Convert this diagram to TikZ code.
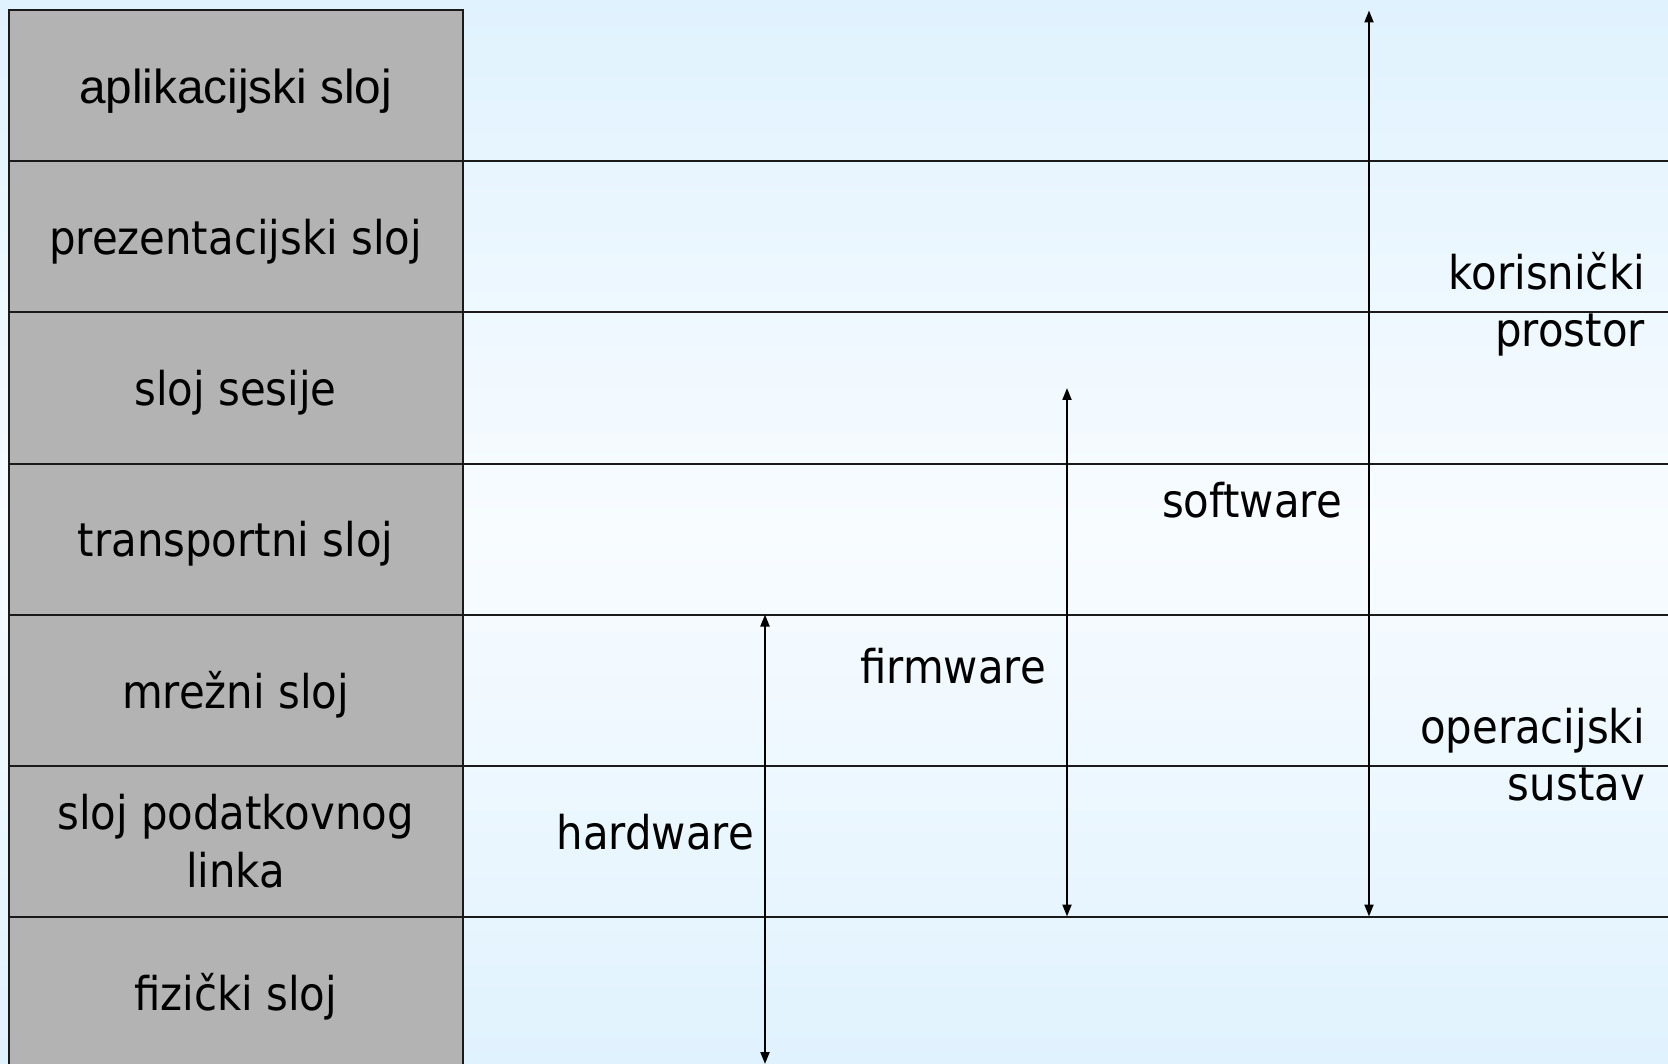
\documentclass[tikz,border=0pt]{standalone}
\usepackage{fontspec}
\setmainfont{Liberation Sans}
\newfontfamily\tah[FakeStretch=0.9]{DejaVu Sans}
\usetikzlibrary{arrows.meta}
\definecolor{bgtop}{RGB}{224,242,254}
\definecolor{bgmid}{RGB}{248,252,255}
\definecolor{layergray}{RGB}{179,179,179}
\definecolor{linecol}{RGB}{26,26,26}
\tikzset{
  layerbox/.style={draw=linecol, line width=2pt, fill=layergray, minimum width=454pt, minimum height=151pt, inner sep=0pt, outer sep=0pt, align=center, font=\tah\fontsize{46.5}{58}\selectfont},
  oneline/.style={text depth=0pt},
  rowline/.style={draw=linecol, line width=2pt},
  lbl/.style={inner sep=0pt, font=\tah\fontsize{46.5}{57}\selectfont},
  span/.style={draw=black, line width=2pt, {Triangle[length=12pt,width=9pt]}-{Triangle[length=12pt,width=9pt]}}
}
\begin{document}
\begin{tikzpicture}[x=1pt,y=-1pt]
\useasboundingbox (0,0) rectangle (1668,1064);
\shade[top color=bgtop, bottom color=bgtop, middle color=bgmid] (0,0) rectangle (1668,1064);
% layer boxes
\node[layerbox, oneline, font=\fontsize{47.7}{58}\selectfont] (l1) at (235.5,86) {aplikacijski sloj};
\node[layerbox, oneline] (l2) at (235.5,237) {prezentacijski sloj};
\node[layerbox, oneline] (l3) at (235.5,388) {sloj sesije};
\node[layerbox, oneline] (l4) at (235.5,539) {transportni sloj};
\node[layerbox, oneline] (l5) at (235.5,690) {mrežni sloj};
\node[layerbox] (l6) at (235.5,841) {sloj podatkovnog\\linka};
\node[layerbox, oneline] (l7) at (235.5,992) {fizički sloj};
% row lines
\draw[rowline] (l1.south east) -- (1668,161.5);
\draw[rowline] (l2.south east) -- (1668,312.5);
\draw[rowline] (l3.south east) -- (1668,463.5);
\draw[rowline] (l4.south east) -- (1668,614.5);
\draw[rowline] (l5.south east) -- (1668,765.5);
\draw[rowline] (l6.south east) -- (1668,916.5);
% arrow end points
\coordinate (a1t) at (1369,10.5);
\coordinate (a1b) at (1369,916.5);
\coordinate (a2t) at (1067,388);
\coordinate (a2b) at (1067,916.5);
\coordinate (a3t) at (765,614.5);
\coordinate (a3b) at (765,1064);
\draw[span] (a1b) -- (a1t);
\draw[span] (a2b) -- (a2t);
\draw[span] (a3b) -- (a3t);
% labels
\node[lbl, align=right, anchor=east] (kp) at (1645,304) {korisnički\\prostor};
\node[lbl, align=right, anchor=east] (os) at (1645,755) {operacijski\\sustav};
\node[lbl, anchor=base east] (sw) at (1342,517) {software};
\node[lbl, anchor=base east] (fw) at (1046,683) {firmware};
\node[lbl, anchor=base east] (hw) at (754,849) {hardware};
\end{tikzpicture}
\end{document}
